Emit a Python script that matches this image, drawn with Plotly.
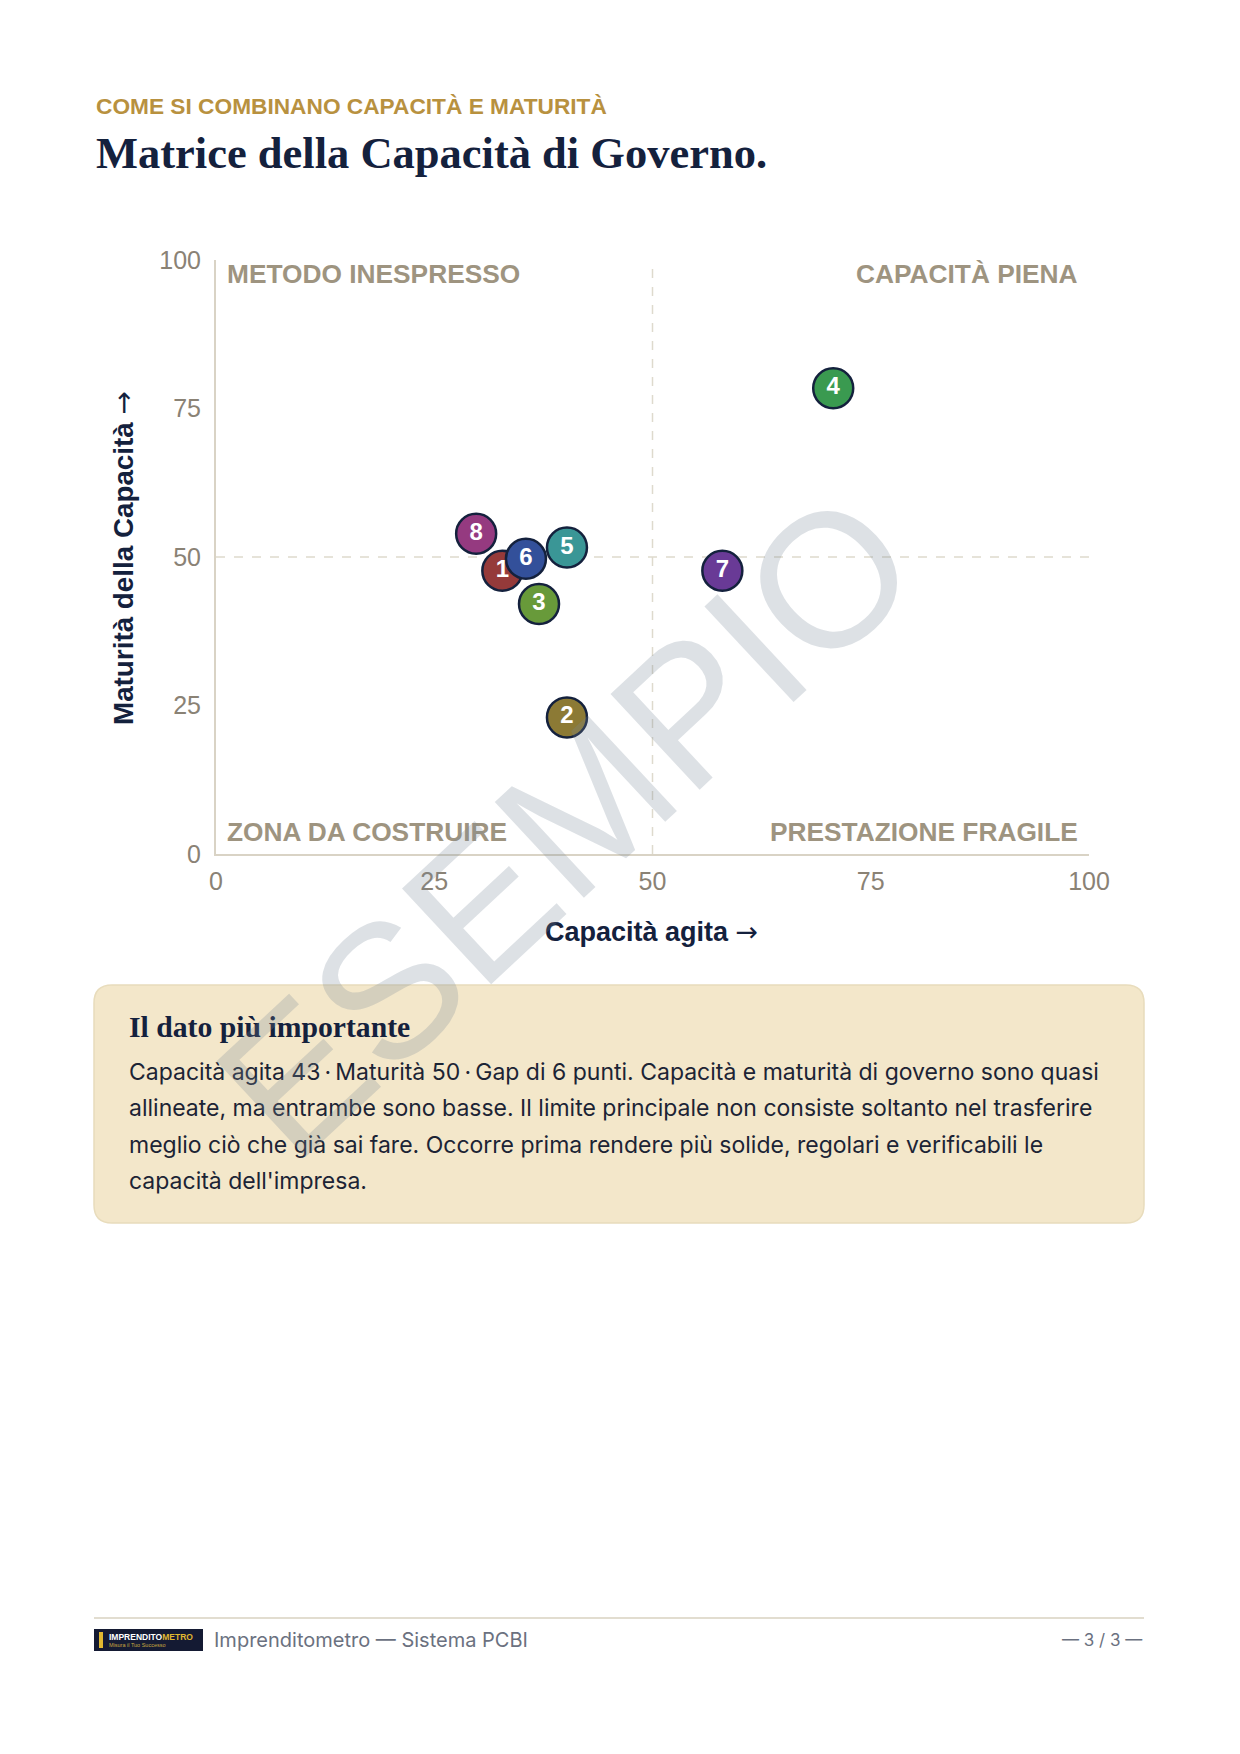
import plotly.graph_objects as go

# ---- data ----
labels = ["1", "2", "3", "4", "5", "6", "7", "8"]
capacita = [32.8, 40.2, 37.0, 70.7, 40.2, 35.5, 58.0, 29.8]
maturita = [47.7, 23.0, 42.1, 78.4, 51.6, 49.7, 47.7, 53.9]
colors = ["#953a3a", "#8c7a35", "#689a3a", "#3a9a50", "#3a9696", "#33509a", "#693a96", "#953a80"]
tick_vals = [0, 25, 50, 75, 100]
quadrants = ["METODO INESPRESSO", "CAPACITÀ PIENA", "ZONA DA COSTRUIRE", "PRESTAZIONE FRAGILE"]
body_lines = [
    "Capacità agita 43\u2009·\u2009Maturità 50\u2009·\u2009Gap di 6 punti. Capacità e maturità di governo sono quasi",
    "allineate, ma entrambe sono basse. Il limite principale non consiste soltanto nel trasferire",
    "meglio ciò che già sai fare. Occorre prima rendere più solide, regolari e verificabili le",
    "capacità dell'impresa.",
]

# page (browser) coordinates; the page body has an 8px default margin
OFF = 8
PW, PH = 1240, 1754
W, H = PW - OFF, PH - OFF
L, R, T, B = 216, 1089, 260, 854


def px(x):
    return (x - L) / (R - L)


def py(y):
    return (B - y) / (B - T)


NAVY = "#14213d"
QCOL = "#9e9480"
TICK = "#8a8275"
ARROW = "<span style='font-family:DejaVu Sans;font-weight:normal'>→</span>"

fig = go.Figure()
fig.add_trace(go.Scatter(
    x=capacita, y=maturita, text=labels, mode="markers+text",
    marker=dict(size=40, color=colors, line=dict(color=NAVY, width=2.5), opacity=1),
    textposition="middle center",
    textfont=dict(family="Liberation Sans", size=24, color="white", weight="bold"),
    hoverinfo="skip", showlegend=False, cliponaxis=False,
))

shapes = []
shapes.append(dict(type="line", xref="x", yref="y", x0=50, x1=50, y0=0, y1=100,
                   line=dict(color="#dedacd", width=1.5, dash="dash"), layer="below"))
shapes.append(dict(type="line", xref="x", yref="y", x0=0, x1=100, y0=50, y1=50,
                   line=dict(color="#dedacd", width=1.5, dash="dash"), layer="below"))

bx0, bx1, by0, by1, rr = 94, 1144, 985, 1223, 18


def rpath(x0, x1, y0, y1, r):
    pts = [
        f"M {px(x0 + r)},{py(y0)}",
        f"L {px(x1 - r)},{py(y0)}",
        f"Q {px(x1)},{py(y0)} {px(x1)},{py(y0 + r)}",
        f"L {px(x1)},{py(y1 - r)}",
        f"Q {px(x1)},{py(y1)} {px(x1 - r)},{py(y1)}",
        f"L {px(x0 + r)},{py(y1)}",
        f"Q {px(x0)},{py(y1)} {px(x0)},{py(y1 - r)}",
        f"L {px(x0)},{py(y0 + r)}",
        f"Q {px(x0)},{py(y0)} {px(x0 + r)},{py(y0)}",
        "Z",
    ]
    return " ".join(pts)


shapes.append(dict(type="path", xref="paper", yref="paper", path=rpath(bx0, bx1, by0, by1, rr),
                   fillcolor="#f3e7ca", line=dict(color="#e8dcbc", width=1.5), layer="below"))
shapes.append(dict(type="line", xref="paper", yref="paper", x0=px(94), x1=px(1144), y0=py(1618), y1=py(1618),
                   line=dict(color="#e2ddd0", width=2)))
shapes.append(dict(type="rect", xref="paper", yref="paper", x0=px(94), x1=px(203), y0=py(1629), y1=py(1651),
                   fillcolor="#141a33", line=dict(width=0)))
shapes.append(dict(type="rect", xref="paper", yref="paper", x0=px(99), x1=px(103), y0=py(1632), y1=py(1648),
                   fillcolor="#e0b830", line=dict(width=0)))

ann = []


def txt(x, y, s, size, color, family="Liberation Sans", weight="normal", xa="left", ya="middle", angle=0):
    ann.append(dict(x=px(x), y=py(y), xref="paper", yref="paper", text=s, showarrow=False,
                    xanchor=xa, yanchor=ya, textangle=angle,
                    font=dict(family=family, size=size, color=color, weight=weight)))


txt(94, 106, "COME SI COMBINANO CAPACITÀ E MATURITÀ", 22.7, "#b8913f", weight="bold")
txt(94, 153, "Matrice della Capacità di Governo.", 44.5, NAVY, family="Liberation Serif", weight="bold")

txt(225, 274, quadrants[0], 26.3, QCOL, weight="bold")
txt(1080, 274, quadrants[1], 26.3, QCOL, weight="bold", xa="right")
txt(225, 832, quadrants[2], 26.3, QCOL, weight="bold")
txt(1080, 832, quadrants[3], 26.3, QCOL, weight="bold", xa="right")

txt(651, 931, "Capacità agita " + ARROW, 27, NAVY, weight="bold", xa="center")
txt(123, 558, "Maturità della Capacità " + ARROW, 27.8, NAVY, weight="bold", xa="center", angle=-90)

txt(127, 1027, "Il dato più importante", 29.7, NAVY, family="Liberation Serif", weight="bold")
for i, line in enumerate(body_lines):
    txt(127, 1072 + i * 36.3, line, 23, "#1c2435", family="Inter")

txt(212, 1640, "Imprenditometro — Sistema PCBI", 20, "#6b7180", family="Inter")
txt(1144, 1640, "— 3 / 3 —", 17, "#6b7180", family="Inter", xa="right")
txt(107, 1637, "IMPRENDITO<span style='color:#e0b830'>METRO</span>", 8.5, "white", weight="bold")
txt(107, 1645, "Misura il Tuo Successo", 5.5, "#c8a840")

# watermark
txt(566, 824, "ESEMPIO", 190, "rgba(120,135,150,0.25)", xa="center", angle=-43)

fig.update_layout(
    width=W, height=H,
    margin=dict(l=L - OFF, r=PW - R, t=T - OFF, b=PH - B, pad=0),
    paper_bgcolor="white", plot_bgcolor="white",
    shapes=shapes, annotations=ann,
    xaxis=dict(range=[0, 100], tickvals=tick_vals, showgrid=False, zeroline=False,
               showline=True, linecolor="#d9d3c5", linewidth=2, ticks="", ticklabelstandoff=4,
               tickfont=dict(family="Liberation Sans", size=25, color=TICK), fixedrange=True),
    yaxis=dict(range=[0, 100], tickvals=tick_vals, showgrid=False, zeroline=False,
               showline=True, linecolor="#d9d3c5", linewidth=2, ticks="", ticklabelstandoff=8,
               tickfont=dict(family="Liberation Sans", size=25, color=TICK), fixedrange=True),
)

fig.write_html("out.html", config={"displayModeBar": False})
